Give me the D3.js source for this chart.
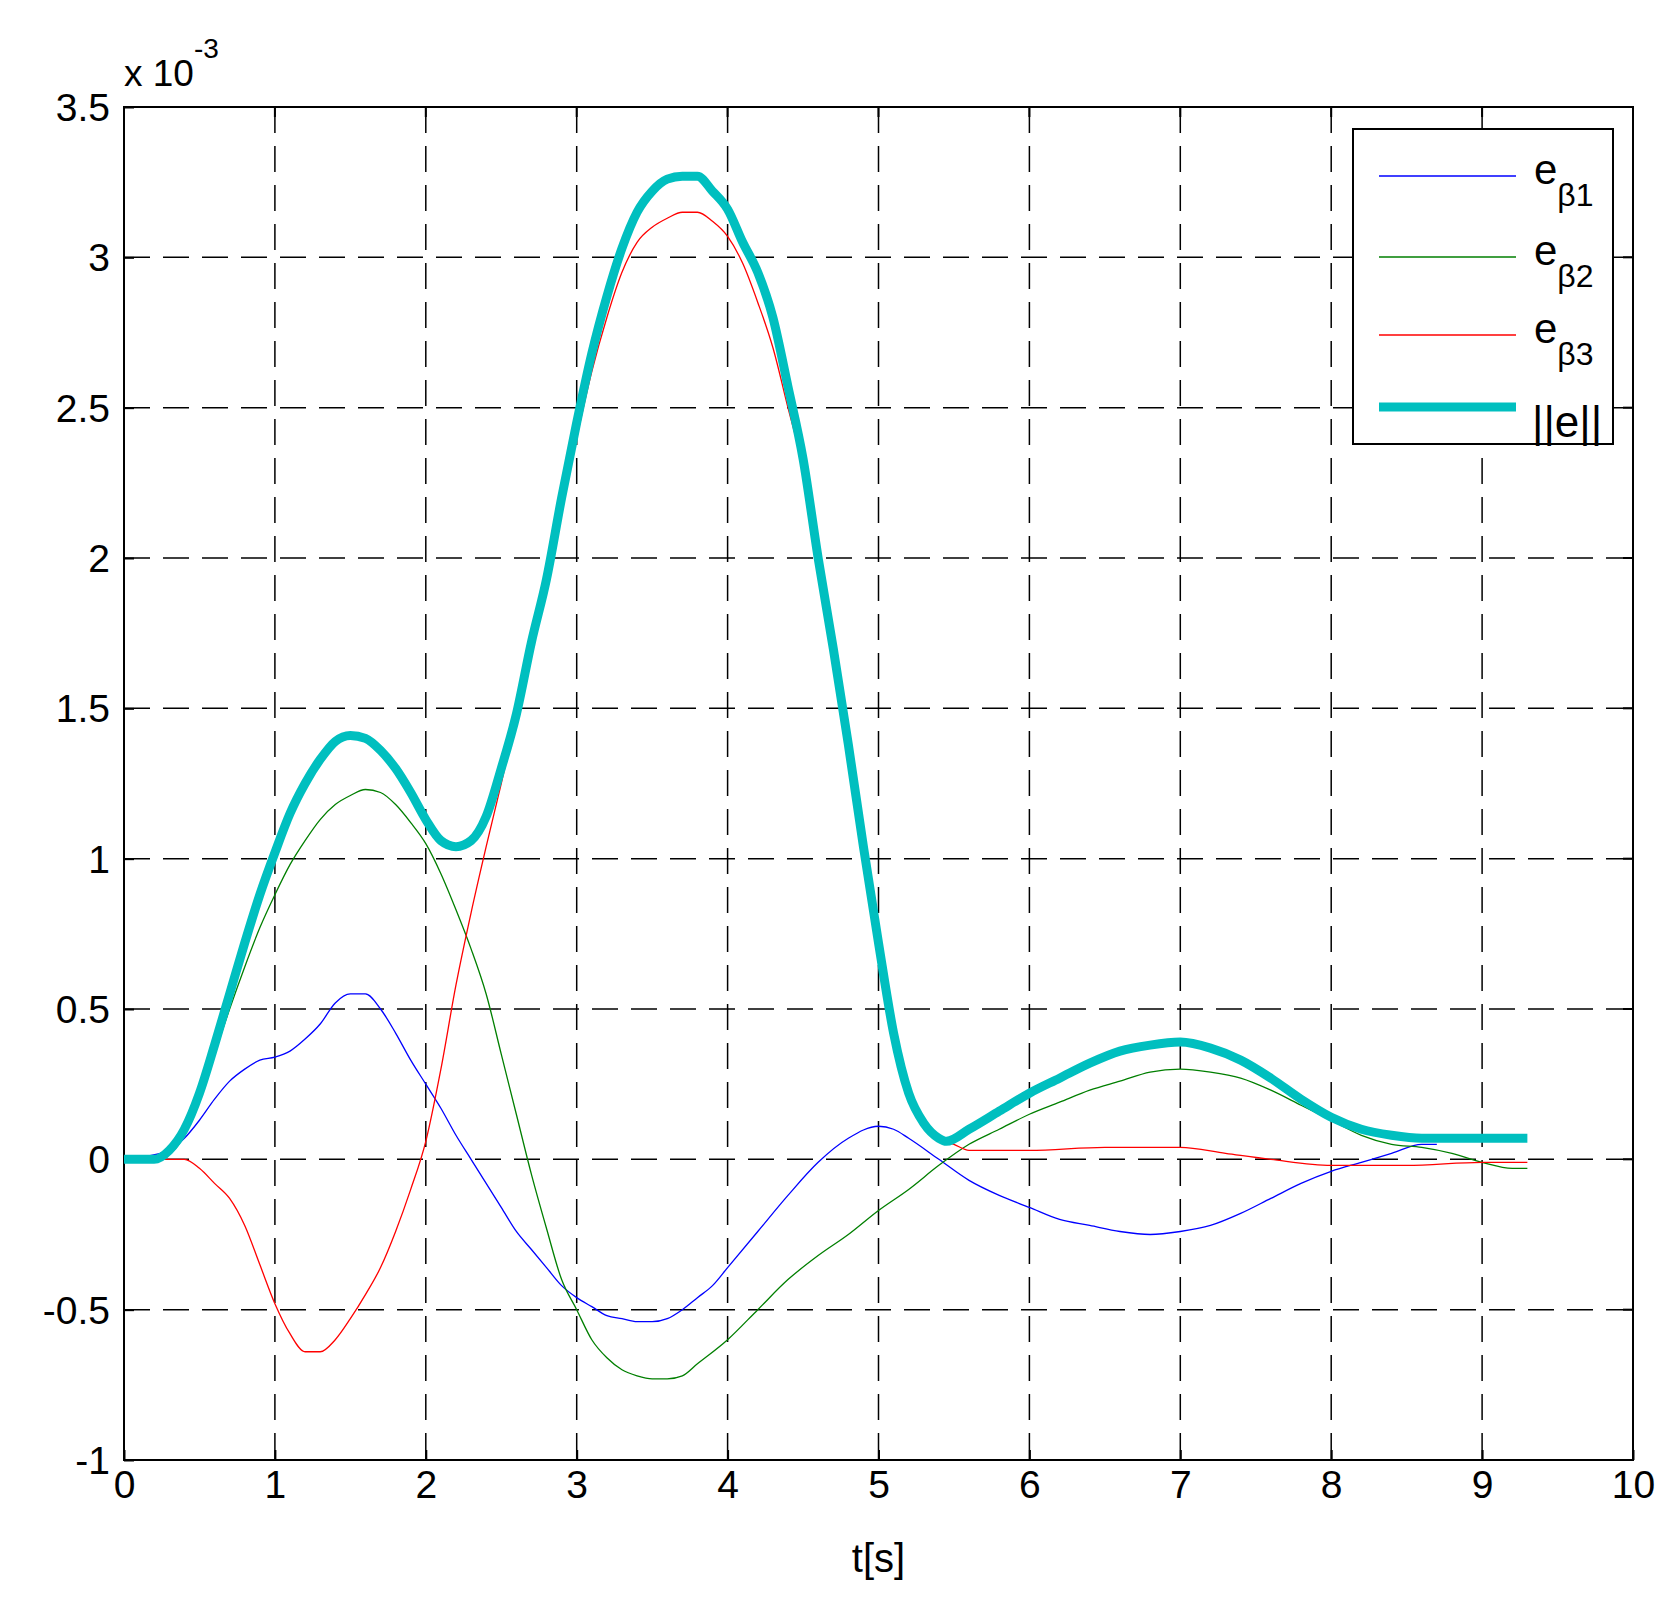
<!DOCTYPE html>
<html><head><meta charset="utf-8">
<script src="https://cdn.jsdelivr.net/npm/d3@7"></script>
<style>body{margin:0;background:#fff}text{font-family:"Liberation Sans",Arial,sans-serif}</style>
</head><body><svg id="c" width="1680" height="1614"></svg>
<script>
const xTicks=[0,1,2,3,4,5,6,7,8,9,10];
const yTicks=[-1,-0.5,0,0.5,1,1.5,2,2.5,3,3.5];
const e1=[[0,0],[0.3,0.03],[0.4,0.07],[0.5,0.13],[0.6,0.2],[0.7,0.26],[0.8,0.3],[0.9,0.33],[1.0,0.34],[1.1,0.36],[1.2,0.4],[1.3,0.45],[1.4,0.52],[1.5,0.55],[1.6,0.55],[1.7,0.5],[1.8,0.42],[1.9,0.33],[2.0,0.25],[2.1,0.17],[2.2,0.08],[2.3,0.0],[2.4,-0.08],[2.5,-0.16],[2.6,-0.24],[2.7,-0.3],[2.8,-0.36],[2.9,-0.42],[3.0,-0.46],[3.1,-0.49],[3.2,-0.52],[3.3,-0.53],[3.4,-0.54],[3.5,-0.54],[3.6,-0.53],[3.7,-0.5],[3.8,-0.46],[3.9,-0.42],[4.0,-0.36],[4.2,-0.24],[4.4,-0.12],[4.6,-0.01],[4.8,0.07],[5.0,0.11],[5.1,0.1],[5.2,0.07],[5.4,0.0],[5.6,-0.07],[5.8,-0.12],[6.0,-0.16],[6.2,-0.2],[6.4,-0.22],[6.6,-0.24],[6.8,-0.25],[7.0,-0.24],[7.2,-0.22],[7.4,-0.18],[7.6,-0.13],[7.8,-0.08],[8.0,-0.04],[8.2,-0.01],[8.4,0.02],[8.6,0.05],[8.7,0.05]];
const e2=[[0,0],[0.3,0.02],[0.4,0.08],[0.5,0.2],[0.6,0.35],[0.7,0.5],[0.8,0.64],[0.9,0.77],[1.0,0.88],[1.1,0.98],[1.2,1.06],[1.3,1.13],[1.4,1.18],[1.5,1.21],[1.6,1.23],[1.7,1.22],[1.8,1.18],[1.9,1.12],[2.0,1.05],[2.1,0.95],[2.2,0.83],[2.3,0.7],[2.4,0.55],[2.5,0.35],[2.6,0.15],[2.7,-0.05],[2.8,-0.23],[2.9,-0.4],[3.0,-0.5],[3.1,-0.6],[3.2,-0.66],[3.3,-0.7],[3.4,-0.72],[3.5,-0.73],[3.6,-0.73],[3.7,-0.72],[3.8,-0.68],[4.0,-0.6],[4.2,-0.5],[4.4,-0.4],[4.6,-0.32],[4.8,-0.25],[5.0,-0.17],[5.2,-0.1],[5.4,-0.02],[5.6,0.05],[5.8,0.1],[6.0,0.15],[6.2,0.19],[6.4,0.23],[6.6,0.26],[6.8,0.29],[7.0,0.3],[7.2,0.29],[7.4,0.27],[7.6,0.23],[7.8,0.18],[8.0,0.13],[8.2,0.08],[8.4,0.05],[8.6,0.04],[8.8,0.02],[9.0,-0.01],[9.2,-0.03],[9.3,-0.03]];
const e3=[[0,0],[0.4,0],[0.5,-0.03],[0.6,-0.08],[0.7,-0.13],[0.8,-0.22],[0.9,-0.35],[1.0,-0.48],[1.1,-0.58],[1.2,-0.64],[1.3,-0.64],[1.4,-0.6],[1.5,-0.53],[1.6,-0.45],[1.7,-0.36],[1.8,-0.24],[1.9,-0.1],[2.0,0.06],[2.1,0.3],[2.2,0.58],[2.3,0.82],[2.4,1.04],[2.5,1.25],[2.6,1.47],[2.7,1.68],[2.8,1.9],[2.9,2.16],[3.0,2.4],[3.1,2.62],[3.2,2.8],[3.3,2.95],[3.4,3.05],[3.5,3.1],[3.6,3.13],[3.7,3.15],[3.8,3.15],[3.9,3.12],[4.0,3.07],[4.1,2.98],[4.2,2.85],[4.3,2.7],[4.4,2.5],[4.5,2.3],[4.6,2.0],[4.7,1.7],[4.8,1.38],[4.9,1.04],[5.0,0.72],[5.1,0.42],[5.2,0.22],[5.3,0.12],[5.4,0.07],[5.5,0.05],[5.6,0.03],[6.0,0.03],[6.5,0.04],[7.0,0.04],[7.3,0.02],[7.6,0.0],[8.0,-0.02],[8.5,-0.02],[9.0,-0.01],[9.3,-0.01]];
const en=[[0,0],[0.2,0],[0.3,0.03],[0.4,0.1],[0.5,0.22],[0.6,0.38],[0.7,0.55],[0.8,0.72],[0.9,0.88],[1.0,1.02],[1.1,1.15],[1.2,1.25],[1.3,1.33],[1.4,1.39],[1.5,1.41],[1.6,1.4],[1.7,1.36],[1.8,1.3],[1.9,1.22],[2.0,1.13],[2.1,1.06],[2.2,1.04],[2.3,1.06],[2.4,1.14],[2.5,1.3],[2.6,1.48],[2.7,1.72],[2.8,1.93],[2.9,2.2],[3.0,2.45],[3.1,2.68],[3.2,2.87],[3.3,3.03],[3.4,3.15],[3.5,3.22],[3.6,3.26],[3.7,3.27],[3.8,3.27],[3.9,3.22],[4.0,3.16],[4.1,3.05],[4.2,2.95],[4.3,2.8],[4.4,2.57],[4.5,2.33],[4.6,2.0],[4.7,1.7],[4.8,1.38],[4.9,1.04],[5.0,0.72],[5.1,0.42],[5.2,0.22],[5.3,0.12],[5.4,0.07],[5.45,0.06],[5.6,0.1],[5.8,0.16],[6.0,0.22],[6.2,0.27],[6.4,0.32],[6.6,0.36],[6.8,0.38],[7.0,0.39],[7.2,0.37],[7.4,0.33],[7.6,0.27],[7.8,0.2],[8.0,0.14],[8.2,0.1],[8.4,0.08],[8.6,0.07],[9.3,0.07]];
const labels=["1","2","3"];

const L=124,R=1633,T=107,B=1460;
const svg=d3.select("#c");
const x=d3.scaleLinear().domain([0,10]).range([L,R]);
const y=d3.scaleLinear().domain([-1,3.5]).range([B,T]);
const g=svg.append("g");
g.selectAll(".gx").data(xTicks.slice(1,-1)).join("line").attr("x1",d=>x(d)).attr("x2",d=>x(d)).attr("y1",T).attr("y2",B).attr("stroke","#000").attr("stroke-width",1.5).attr("stroke-dasharray","26,13");
g.selectAll(".gy").data(yTicks.slice(1,-1)).join("line").attr("y1",d=>y(d)).attr("y2",d=>y(d)).attr("x1",L).attr("x2",R).attr("stroke","#000").attr("stroke-width",1.5).attr("stroke-dasharray","26,13");
const ax=svg.append("g").attr("transform",`translate(0,${B})`).call(d3.axisBottom(x).tickValues(xTicks).tickSize(-10).tickPadding(10).tickFormat(d3.format("d")));
const ay=svg.append("g").attr("transform",`translate(${L},0)`).call(d3.axisLeft(y).tickValues(yTicks).tickSize(-10).tickPadding(14).tickFormat(d=>d===0?"0":String(d)));
[ax,ay].forEach(a=>{a.select(".domain").remove();a.selectAll("text").attr("font-size",39).attr("fill","#000");a.selectAll("line").attr("stroke","#000").attr("stroke-width",2);});
ay.selectAll("text").attr("dy","0.35em");
svg.append("g").selectAll("line").data(xTicks).join("line").attr("x1",d=>x(d)).attr("x2",d=>x(d)).attr("y1",T).attr("y2",T+10).attr("stroke","#000").attr("stroke-width",2);
svg.append("g").selectAll("line").data(yTicks).join("line").attr("y1",d=>y(d)).attr("y2",d=>y(d)).attr("x1",R).attr("x2",R-10).attr("stroke","#000").attr("stroke-width",2);
svg.append("rect").attr("x",L).attr("y",T).attr("width",R-L).attr("height",B-T).attr("fill","none").attr("stroke","#000").attr("stroke-width",2);

const line=d3.line().x(d=>x(d[0])).y(d=>y(d[1])).curve(d3.curveMonotoneX);
const series=[{d:e1,c:"#0000ff",w:1.3},{d:e2,c:"#007f00",w:1.3},{d:e3,c:"#ff0000",w:1.3},{d:en,c:"#00bfbf",w:9}];
series.forEach(s=>svg.append("path").attr("d",line(s.d)).attr("fill","none").attr("stroke",s.c).attr("stroke-width",s.w).attr("stroke-linejoin","round"));

svg.append("rect").attr("x",1353).attr("y",129).attr("width",260).attr("height",315).attr("fill","#fff").attr("stroke","#000").attr("stroke-width",2);
const ly=[176,257,335,407];
series.forEach((s,i)=>{
  svg.append("line").attr("x1",1379).attr("x2",1516).attr("y1",ly[i]).attr("y2",ly[i]).attr("stroke",s.c).attr("stroke-width",s.w);
  if(i<3){
    const t=svg.append("text").attr("x",1534).attr("y",ly[i]+8).attr("font-size",42);
    t.append("tspan").text("e");
    t.append("tspan").attr("dy",22).attr("font-size",32).text("β"+labels[i]);
  } else {
    svg.append("text").attr("x",1532).attr("y",ly[i]+30).attr("font-size",44).text("||e||");
  }
});
const ex=svg.append("text").attr("x",124).attr("y",86).attr("font-size",37);
ex.append("tspan").text("x 10");
ex.append("tspan").attr("dy",-28).attr("font-size",28).text("-3");
svg.append("text").attr("x",(L+R)/2).attr("y",1572).attr("text-anchor","middle").attr("font-size",40).text("t[s]");
</script></body></html>
